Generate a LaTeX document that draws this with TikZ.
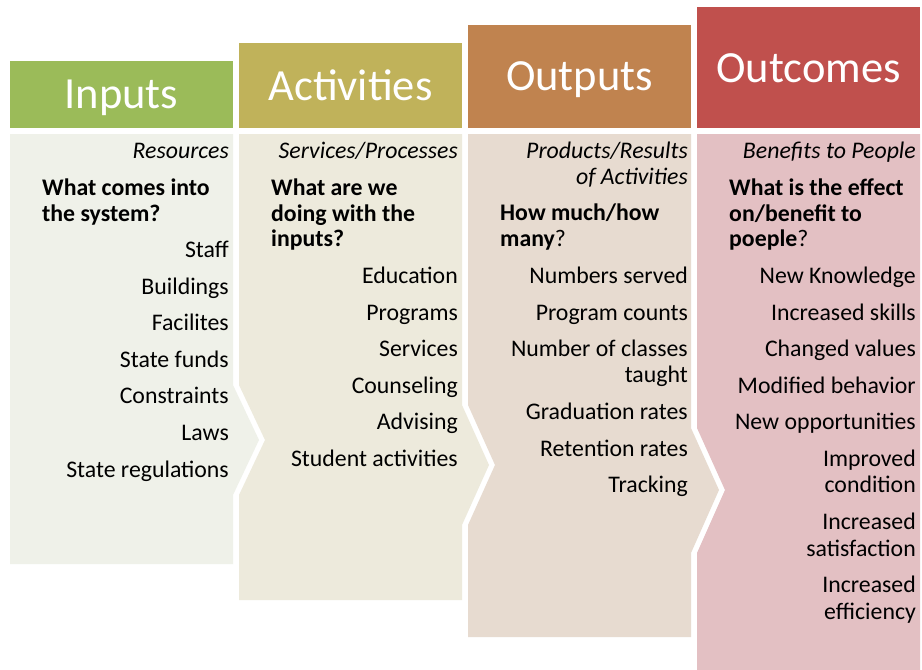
\documentclass[tikz,border=0pt]{standalone}
\usepackage{fontspec}
\setmainfont{Carlito}
\definecolor{hIn}{HTML}{9BBB59}
\definecolor{hAc}{HTML}{C0B25A}
\definecolor{hOp}{HTML}{C0834F}
\definecolor{hOc}{HTML}{C0504D}
\definecolor{bIn}{HTML}{EFF1E9}
\definecolor{bAc}{HTML}{EDEADC}
\definecolor{bOp}{HTML}{E7DBD0}
\definecolor{bOc}{HTML}{E3C0C3}
\tikzset{
  hdr/.style={text=white, font=\fontsize{44.5}{50}\selectfont, anchor=base, inner sep=0pt},
  itm/.style={font=\fontsize{23.8}{26}\selectfont, anchor=base east, inner sep=0pt, yshift=-1pt},
  itl/.style={font=\fontsize{23.8}{26}\selectfont\itshape, anchor=base east, inner sep=0pt, yshift=-1pt},
  qst/.style={font=\fontsize{23.8}{26}\selectfont\bfseries, anchor=base west, inner sep=0pt, yshift=-1pt},
}
\begin{document}
\begin{tikzpicture}[x=1pt,y=-1pt]
\fill[white] (0,0) rectangle (922,670);
\useasboundingbox (0,0) rectangle (922,670);
% headers
\fill[hIn] (10,61) rectangle (233,128);
\fill[hAc] (239,43) rectangle (462,128);
\fill[hOp] (468,25) rectangle (691,128);
\fill[hOc] (697,7) rectangle (920,128);
% bodies
\fill[bIn] (10,134) -- (233,134) -- (233,385) -- (259,440) -- (233,495) -- (233,564) -- (10,564) -- cycle;
\fill[bAc] (239,134) -- (462,134) -- (462,405) -- (489,465) -- (462,525) -- (462,600) -- (239,600) -- (239,495) -- (265,440) -- (239,385) -- cycle;
\fill[bOp] (468,134) -- (691,134) -- (691,428) -- (719,490) -- (691,553) -- (691,637) -- (468,637) -- (468,525) -- (495,465) -- (468,405) -- cycle;
\fill[bOc] (697,134) -- (920,134) -- (920,670) -- (697,670) -- (697,553) -- (725,490) -- (697,428) -- cycle;
% header texts
\node[hdr] (hin) at (121.5,108) {Inputs};
\node[hdr] (hac) at (350.5,100) {Activities};
\node[hdr] (hop) at (579.5,90) {Outputs};
\node[hdr] (hoc) at (808.5,82) {Outcomes};
% Inputs column
\node[itl] (i0) at (229,157.5) {Resources};
\node[qst] (iq1) at (42,194.5) {What comes into};
\node[qst] (iq2) at (42,220) {the system?};
\node[itm] (i1) at (229,256.5) {Staff};
\node[itm] (i2) at (229,293.1) {Buildings};
\node[itm] (i3) at (229,329.7) {Facilites};
\node[itm] (i4) at (229,366.3) {State funds};
\node[itm] (i5) at (229,402.9) {Constraints};
\node[itm] (i6) at (229,439.5) {Laws};
\node[itm] (i7) at (229,476.1) {State regulations};
% Activities column
\node[itl] (a0) at (458,157.5) {Services/Processes};
\node[qst] (aq1) at (271,194.5) {What are we};
\node[qst] (aq2) at (271,220) {doing with the};
\node[qst] (aq3) at (271,245.7) {inputs?};
\node[itm] (a1) at (458,282.5) {Education};
\node[itm] (a2) at (458,319.1) {Programs};
\node[itm] (a3) at (458,355.7) {Services};
\node[itm] (a4) at (458,392.3) {Counseling};
\node[itm] (a5) at (458,428.9) {Advising};
\node[itm] (a6) at (458,465.5) {Student activities};
% Outputs column
\node[itl] (o0) at (688,157.5) {Products/Results};
\node[itl] (o0b) at (688,183.5) {of Activities};
\node[qst] (oq1) at (500,219.5) {How much/how};
\node[qst] (oq2) at (500,245.5) {many\textmd{?}};
\node[itm] (o1) at (688,282.5) {Numbers served};
\node[itm] (o2) at (688,319.1) {Program counts};
\node[itm] (o3) at (688,355.7) {Number of classes};
\node[itm] (o3b) at (688,381.7) {taught};
\node[itm] (o4) at (688,418.5) {Graduation rates};
\node[itm] (o5) at (688,455.2) {Retention rates};
\node[itm] (o6) at (688,491.9) {Tracking};
% Outcomes column
\node[itl] (c0) at (916,157.5) {Benefits to People};
\node[qst] (cq1) at (729,194.5) {What is the effect};
\node[qst] (cq2) at (729,220) {on/benefit to};
\node[qst] (cq3) at (729,245.7) {poeple\textmd{?}};
\node[itm] (c1) at (916,282.5) {New Knowledge};
\node[itm] (c2) at (916,319.1) {Increased skills};
\node[itm] (c3) at (916,355.7) {Changed values};
\node[itm] (c4) at (916,392.3) {Modified behavior};
\node[itm] (c5) at (916,428.9) {New opportunities};
\node[itm] (c6) at (916,465.5) {Improved};
\node[itm] (c6b) at (916,491.9) {condition};
\node[itm] (c7) at (916,528.5) {Increased};
\node[itm] (c7b) at (916,555) {satisfaction};
\node[itm] (c8) at (916,591.5) {Increased};
\node[itm] (c8b) at (916,618) {efficiency};
\end{tikzpicture}
\end{document}
